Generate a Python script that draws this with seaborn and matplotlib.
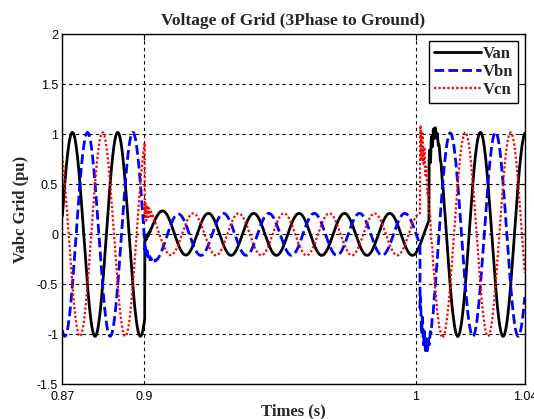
"""
plot.py
Three-phase grid voltage (phase to ground) through a symmetrical sag:
normal operation, fault at ~0.9 s, recovery at ~1.0 s.
"""
import numpy as np
import pandas as pd
import matplotlib
matplotlib.use("Agg")
import matplotlib.pyplot as plt
import seaborn as sns

# ---------------------------------------------------------------------------
# values
# ---------------------------------------------------------------------------
T_START, T_END = 0.87, 1.04
F_GRID = 60.0            # Hz
T_PEAK_VAN = 0.8737      # one positive peak of Van (s)
DT = 2e-5

phases = ["Van", "Vbn", "Vcn"]
phase_lag = [0.0, 1 / 3, 2 / 3]          # cycles behind Van
colors = ["black", "blue", "red"]
dash_styles = ["-", (0, (3.5, 1.5)), (0, (1, 1))]
line_widths = [2.0, 2.0, 1.6]

amp_normal = [1.02, 1.02, 1.02]          # pu
amp_fault = [0.21, 0.21, 0.21]           # pu during the sag
fault_start = [0.9003, 0.9003, 0.9003]
fault_end = [1.0048, 1.0015, 1.0015]

dc_fault = [0.13, -0.14, 0.02]           # dc offset at inception
ring_fault = [0.03, 0.06, 0.12]          # ringing at inception
dc_clear = [0.0, -0.22, -0.12]           # dc offset at clearing
ring_clear = [0.12, 0.16, 0.2]           # ringing at clearing
F_RING = 1400.0

x_ticks = [0.87, 0.9, 1.0, 1.04]
x_tick_labels = ["0.87", "0.9", "1", "1.04"]
y_ticks = [-1.5, -1, -0.5, 0, 0.5, 1, 1.5, 2]
y_tick_labels = ["-1.5", "-1", "-0.5", "0", "0.5", "1", "1.5", "2"]

# ---------------------------------------------------------------------------
# build the waveforms
# ---------------------------------------------------------------------------
t = np.arange(T_START, T_END + DT, DT)
frames = []
for i, name in enumerate(phases):
    theta = 2 * np.pi * (F_GRID * (t - T_PEAK_VAN) - phase_lag[i])
    fs, fe = fault_start[i], fault_end[i]
    in_fault = (t >= fs) & (t < fe)
    after = t >= fe
    amp = np.where(in_fault, amp_fault[i], amp_normal[i])
    v = amp * np.cos(theta)

    d1 = np.clip(t - fs, 0, None)
    v += in_fault * (dc_fault[i] * np.exp(-d1 / 0.004)
                     + ring_fault[i] * np.exp(-d1 / 0.0015)
                     * np.sin(2 * np.pi * F_RING * d1))
    d2 = np.clip(t - fe, 0, None)
    v += after * (dc_clear[i] * np.exp(-d2 / 0.003)
                  + ring_clear[i] * np.exp(-d2 / 0.0025)
                  * np.sin(2 * np.pi * F_RING * d2))
    frames.append(pd.DataFrame({"t": t, "v": v, "phase": name}))

df = pd.concat(frames, ignore_index=True)

# ---------------------------------------------------------------------------
# plot
# ---------------------------------------------------------------------------
sns.set_style("white")
plt.rcParams["font.family"] = ["Liberation Sans", "DejaVu Sans"]

fig = plt.figure(figsize=(5.34, 4.19), dpi=100)
ax = fig.add_axes([0.1167, 0.0828, 0.866, 0.835])

for i, name in enumerate(phases):
    sub = df[df["phase"] == name]
    sns.lineplot(data=sub, x="t", y="v", ax=ax, color=colors[i],
                 linestyle=dash_styles[i], linewidth=line_widths[i],
                 estimator=None, sort=False, label=name)

ax.set_xlim(T_START, T_END)
ax.set_ylim(-1.5, 2)
ax.set_xticks(x_ticks)
ax.set_xticklabels(x_tick_labels)
ax.set_yticks(y_ticks)
ax.set_yticklabels(y_tick_labels)
ax.tick_params(direction="in", length=4, width=0.8, labelsize=9,
               top=True, right=True, colors="black", pad=3)
ax.tick_params(axis="x", pad=5)
ax.grid(True, color="black", linestyle=(0, (3, 3)), linewidth=0.8)
for sp in ax.spines.values():
    sp.set_color("black")
    sp.set_linewidth(1.0)

serif_bold = {"family": ["Liberation Serif", "DejaVu Serif"], "weight": "bold"}
ax.set_title("Voltage of Grid (3Phase to Ground)", fontdict=serif_bold,
             fontsize=12.5, pad=7)
ax.set_xlabel("Times (s)", fontdict=serif_bold, fontsize=12, labelpad=0)
ax.set_ylabel("Vabc Grid (pu)", fontdict=serif_bold, fontsize=12, labelpad=6)

leg = ax.legend(loc="upper right", prop={"family": "Liberation Serif",
                                         "weight": "bold", "size": 12},
                frameon=True, fancybox=False, edgecolor="black",
                framealpha=1, handlelength=2.8, handletextpad=0.1,
                borderpad=0.3, labelspacing=0.12, borderaxespad=0.4)
leg.get_frame().set_linewidth(1.0)

fig.savefig("out.png", dpi=100)
plt.close(fig)
